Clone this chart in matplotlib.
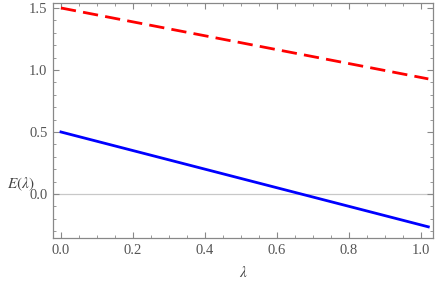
import numpy as np
import matplotlib.pyplot as plt
from matplotlib.ticker import MultipleLocator, FormatStrFormatter

plt.rcParams['font.family'] = ['Liberation Serif', 'DejaVu Serif']
plt.rcParams['mathtext.fontset'] = 'stix'

# datos
lam = [0.0, 1.02]
e_azul = [0.5, -0.265]
e_rojo = [1.5, 0.928]

gris = '#888888'

fig = plt.figure(figsize=(4.36, 2.81), dpi=100)
ax = fig.add_axes([53/436, 1 - 238/281, 380/436, 235/281])

ax.axhline(0, color='#c8c8c8', lw=0.9, zorder=1)
ax.plot(lam, e_rojo, color='#ff0000', lw=2.0, dashes=(5.5, 2.6), zorder=3)
ax.plot(lam, e_azul, color='#0000ff', lw=2.0, zorder=3)

ax.set_xlim(-0.022, 1.033)
ax.set_ylim(-0.355, 1.54)

ax.xaxis.set_major_locator(MultipleLocator(0.2))
ax.xaxis.set_minor_locator(MultipleLocator(0.05))
ax.yaxis.set_major_locator(MultipleLocator(0.5))
ax.yaxis.set_minor_locator(MultipleLocator(0.1))
ax.xaxis.set_major_formatter(FormatStrFormatter('%.1f'))
ax.yaxis.set_major_formatter(FormatStrFormatter('%.1f'))

for s in ax.spines.values():
    s.set_color(gris)
    s.set_linewidth(0.9)

ax.tick_params(which='both', direction='in', top=True, right=True,
               color=gris, labelcolor='#555555', labelsize=10.5, pad=4)
ax.tick_params(which='major', length=4, width=0.8)
ax.tick_params(which='minor', length=2.2, width=0.6)
ax.tick_params(axis='x', which='both', labeltop=False)
ax.tick_params(axis='y', which='both', labelright=False)

ax.set_xlabel(r'$\lambda$', fontsize=11, color='#444444', labelpad=6)
ax.set_ylabel(r'$E(\lambda)$', fontsize=11, color='#444444', rotation=0,
              va='center', ha='center')
ax.yaxis.set_label_coords(-0.085, 0.23)

fig.savefig('out.png', dpi=100)
